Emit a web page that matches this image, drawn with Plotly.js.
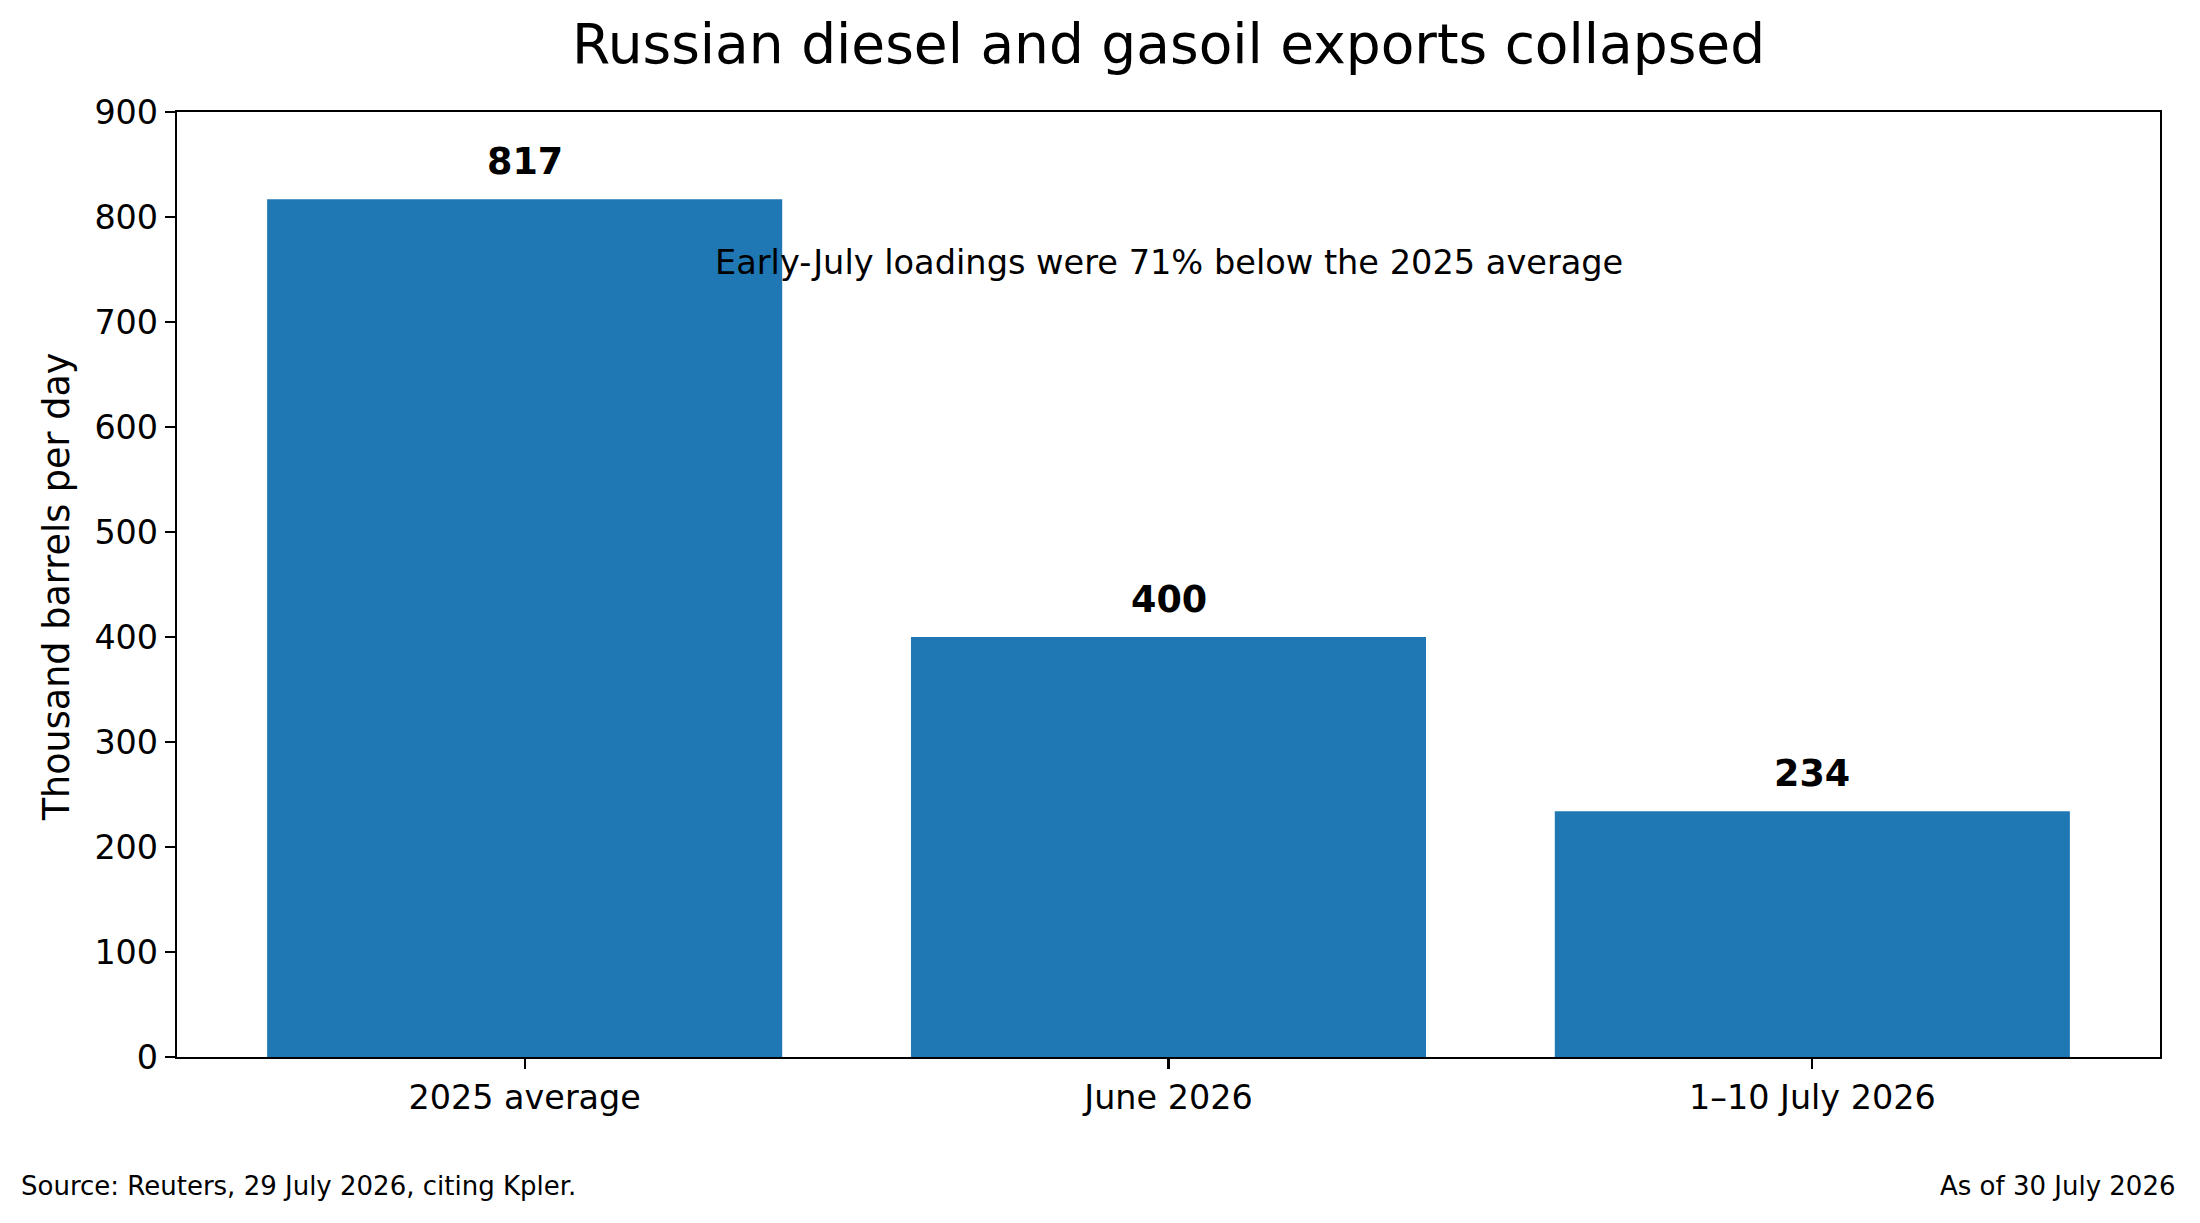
<!DOCTYPE html>
<html>
<head>
<meta charset="utf-8">
<script src="https://cdn.plot.ly/plotly-3.0.1.min.js"></script>
<style>html,body{margin:0;padding:0;background:#fff;}#chart{width:2200px;height:1223px;}</style>
</head>
<body>
<div id="chart"></div>
<script>
const categories = ["2025 average", "June 2026", "1–10 July 2026"];
const exportsKbd = [817, 400, 234];
const barLabels = ["817", "400", "234"];
const yTicks = [0, 100, 200, 300, 400, 500, 600, 700, 800, 900];

const chartTitle = "Russian diesel and gasoil exports collapsed";
const yTitle = "Thousand barrels per day";
const noteText = "Early-July loadings were 71% below the 2025 average";
const sourceText = "Source: Reuters, 29 July 2026, citing Kpler.";
const asOfText = "As of 30 July 2026";

const FONT = "DejaVu Sans, Liberation Sans, sans-serif";

const trace = {
  type: "bar",
  x: categories.map((c, i) => i),
  y: exportsKbd,
  width: 0.8,
  marker: { color: "#1f77b4", line: { width: 0 } },
  hoverinfo: "skip",
  showlegend: false
};

const annotations = [];
exportsKbd.forEach((v, i) => {
  annotations.push({
    x: i, y: v, xref: "x", yref: "y",
    text: "<b>" + barLabels[i] + "</b>",
    showarrow: false, xanchor: "center", yanchor: "bottom", yshift: 14,
    font: { family: FONT, size: 36.5, color: "#000" }
  });
});
annotations.push({
  x: 0.5, y: 757, xref: "paper", yref: "y",
  text: noteText, showarrow: false, xanchor: "center", yanchor: "middle",
  font: { family: FONT, size: 33.6, color: "#000" }
});
annotations.push({
  x: -0.061, y: 0.497, xref: "paper", yref: "paper",
  text: yTitle, textangle: -90, showarrow: false, xanchor: "center", yanchor: "middle",
  font: { family: FONT, size: 36.6, color: "#000" }
});
annotations.push({
  x: -0.0795, y: -0.1365, xref: "paper", yref: "paper",
  text: sourceText, showarrow: false, xanchor: "left", yanchor: "middle",
  font: { family: FONT, size: 26, color: "#000" }
});
annotations.push({
  x: 1.0085, y: -0.1365, xref: "paper", yref: "paper",
  text: asOfText, showarrow: false, xanchor: "right", yanchor: "middle",
  font: { family: FONT, size: 26, color: "#000" }
});

const layout = {
  width: 2200, height: 1223,
  margin: { l: 177, r: 40, t: 112, b: 166, pad: 0 },
  paper_bgcolor: "#fff", plot_bgcolor: "#fff",
  font: { family: FONT, color: "#000" },
  title: {
    text: chartTitle, x: 0.5, xref: "paper", xanchor: "center",
    y: 0.964, yref: "container", yanchor: "middle",
    font: { family: FONT, size: 55, color: "#000" }
  },
  xaxis: {
    range: [-0.54, 2.54], tickmode: "array",
    tickvals: categories.map((c, i) => i), ticktext: categories,
    showline: true, mirror: true, linecolor: "#000", linewidth: 2.2,
    ticks: "outside", ticklen: 10, tickwidth: 2.2, tickcolor: "#000",
    showgrid: false, zeroline: false,
    tickfont: { family: FONT, size: 33.4, color: "#000" }
  },
  yaxis: {
    range: [0, 900], tickmode: "array", tickvals: yTicks,
    showline: true, mirror: true, linecolor: "#000", linewidth: 2.2,
    ticks: "outside", ticklen: 10, tickwidth: 2.2, tickcolor: "#000",
    showgrid: false, zeroline: false,
    tickfont: { family: FONT, size: 33.4, color: "#000" }
  },
  bargap: 0.2,
  annotations: annotations
};

Plotly.newPlot("chart", [trace], layout, { staticPlot: true, displayModeBar: false });
</script>
</body>
</html>
